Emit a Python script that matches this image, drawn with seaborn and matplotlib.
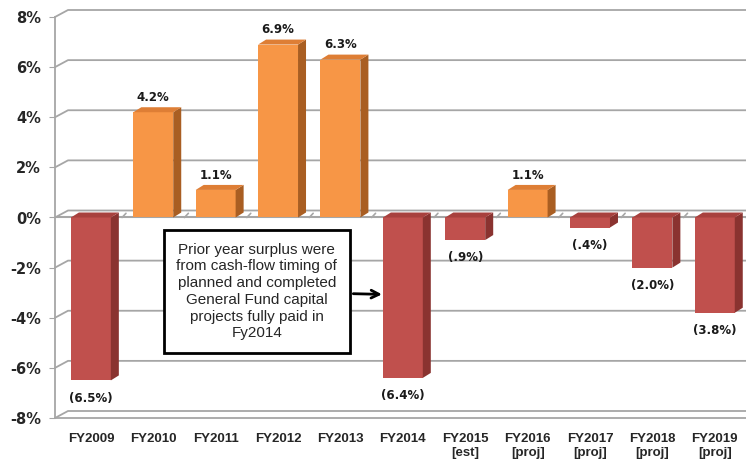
import matplotlib
matplotlib.use('Agg')
import matplotlib.pyplot as plt
from matplotlib.patches import Polygon
import seaborn as sns
import pandas as pd

# dados do gráfico
anos = ['FY2009', 'FY2010', 'FY2011', 'FY2012', 'FY2013', 'FY2014',
        'FY2015\n[est]', 'FY2016\n[proj]', 'FY2017\n[proj]', 'FY2018\n[proj]', 'FY2019\n[proj]']
crescimento = [-6.5, 4.2, 1.1, 6.9, 6.3, -6.4, -0.9, 1.1, -0.4, -2.0, -3.8]
rotulos = ['(6.5%)', '4.2%', '1.1%', '6.9%', '6.3%', '(6.4%)', '(.9%)', '1.1%', '(.4%)', '(2.0%)', '(3.8%)']
yticks = [-8, -6, -4, -2, 0, 2, 4, 6, 8]
ytick_labels = ['-8%', '-6%', '-4%', '-2%', '0%', '2%', '4%', '6%', '8%']
nota = ('Prior year surplus were\nfrom cash-flow timing of\nplanned and completed\n'
        'General Fund capital\nprojects fully paid in\nFy2014')

sns.set_style('white')
plt.rcParams['font.family'] = ['DejaVu Sans']

cores = {'pos': '#F79646', 'neg': '#C0504D'}
laterais = {'pos': '#A95E22', 'neg': '#8A3330'}
topos = {'pos': '#DE7E35', 'neg': '#A8413E'}

df = pd.DataFrame({'ano': anos, 'valor': crescimento})
df['sinal'] = ['pos' if v > 0 else 'neg' for v in crescimento]

fig = plt.figure(figsize=(7.46, 4.65), dpi=100)
W, H = 746, 465
ax = fig.add_axes([55 / W, (H - 418) / H, (746 - 55) / W, (418 - 17) / H])

xmin, xmax = -0.575, 10.5

sns.barplot(data=df, x='ano', y='valor', hue='sinal', palette=cores, dodge=False,
            width=0.64, legend=False, ax=ax, zorder=3, saturation=1, linewidth=0)
ax.set_xlim(xmin, xmax)
ax.set_ylim(-8, 8)

# escala em pixels para o efeito 3D
px_x = (746 - 55) / (xmax - xmin)
px_y = (418 - 17) / 16.0
gdx, gdy = 13 / px_x, 7 / px_y   # profundidade da parede
bdx, bdy = 8 / px_x, 5 / px_y    # profundidade das barras

cinza = '#A6A6A6'
# linhas de grade na parede do fundo
for y in yticks:
    ax.plot([xmin, xmin + gdx, xmax + 1], [y, y + gdy, y + gdy], color=cinza, lw=1.3,
            zorder=1, clip_on=False)
# piso
ax.plot([xmin, xmax + 1], [-8, -8], color=cinza, lw=1.3, zorder=1, clip_on=False)
# eixo de categorias no zero
ax.plot([xmin, xmax], [0, 0], color=cinza, lw=1.5, zorder=2)
for i in range(len(anos)):
    xb = i + 0.5
    ax.plot([xb, xb + gdx * 0.3], [0, gdy * 0.6], color=cinza, lw=1.2, zorder=2)

# faces laterais e superiores
for p in ax.patches:
    x0 = p.get_x()
    x1 = x0 + p.get_width()
    ya, yb = p.get_y(), p.get_y() + p.get_height()
    lo, hi = min(ya, yb), max(ya, yb)
    s = 'pos' if hi > 0.001 else 'neg'
    ax.add_patch(Polygon([(x1, lo), (x1 + bdx, lo + bdy), (x1 + bdx, hi + bdy), (x1, hi)],
                         closed=True, fc=laterais[s], ec='none', zorder=3))
    ax.add_patch(Polygon([(x0, hi), (x1, hi), (x1 + bdx, hi + bdy), (x0 + bdx, hi + bdy)],
                         closed=True, fc=topos[s], ec='none', zorder=3))

# rótulos de valores
for i, (v, r) in enumerate(zip(crescimento, rotulos)):
    if v > 0:
        ax.annotate(r, xy=(i, v), xytext=(0, 6), textcoords='offset points',
                    ha='center', va='bottom', fontsize=8.5, fontweight='bold', color='#1A1A1A')
    else:
        ax.annotate(r, xy=(i, v), xytext=(0, -8), textcoords='offset points',
                    ha='center', va='top', fontsize=8.5, fontweight='bold', color='#1A1A1A')

# nota explicativa
ax.annotate(nota, xy=(4.71, -3.07), xytext=(2.66, -2.95), textcoords='data',
            ha='center', va='center', fontsize=11, linespacing=1.25,
            family=['Liberation Sans', 'DejaVu Sans'], zorder=6,
            bbox=dict(boxstyle='square,pad=0.8', fc='white', ec='black', lw=2),
            arrowprops=dict(arrowstyle='->', color='black', lw=2, mutation_scale=14))

# eixos
ax.set_yticks(yticks)
ax.set_yticklabels(ytick_labels, fontsize=10.5, fontweight='bold')
ax.set_xticks(range(len(anos)))
ax.set_xticklabels(anos, fontsize=9.5, fontweight='bold',
                   family=['Liberation Sans Narrow', 'Liberation Sans'])
ax.tick_params(axis='x', length=0, pad=11)
ax.tick_params(axis='y', length=4, color=cinza, pad=6, left=True)
ax.set_xlabel('')
ax.set_ylabel('')
for lado in ['top', 'right', 'bottom']:
    ax.spines[lado].set_visible(False)
ax.spines['left'].set_color(cinza)
ax.spines['left'].set_linewidth(1.3)

fig.savefig('out.png', dpi=100, facecolor='white')
plt.close(fig)
